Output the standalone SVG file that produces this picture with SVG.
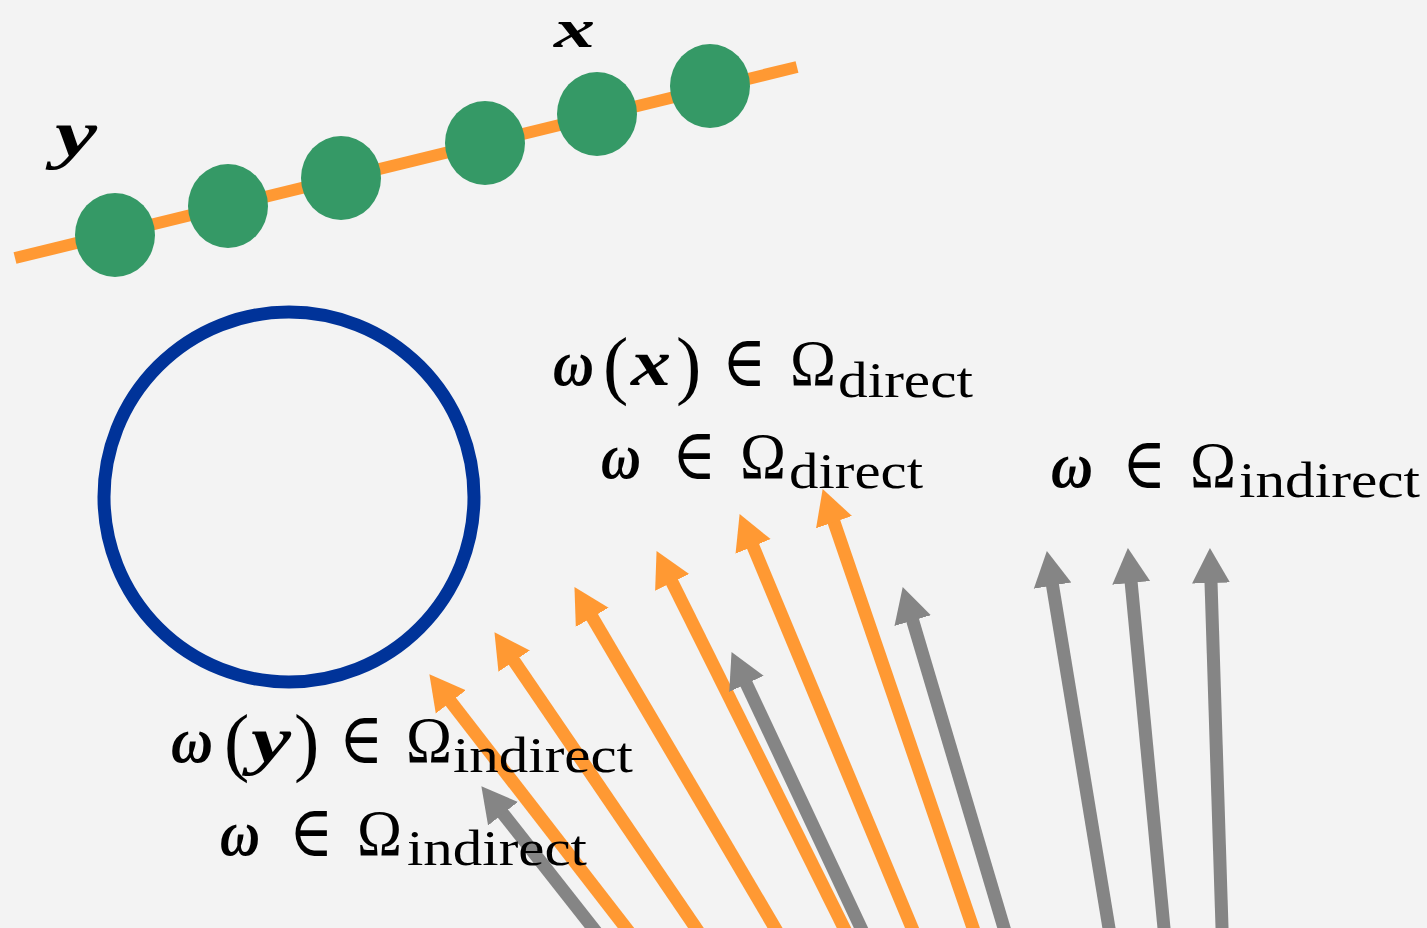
<svg xmlns="http://www.w3.org/2000/svg" width="1427" height="928" viewBox="0 0 1427 928">
<style>
.t{font-family:"Liberation Serif","DejaVu Serif",serif;font-size:66px;fill:#000}
.bi{font-weight:bold;font-style:italic}
.s{font-size:50px}
.p{font-size:76px}
.e{font-size:72px}
.or{stroke:#ff9933;stroke-width:13;fill:none;marker-end:url(#ha)}
.gr{stroke:#858585;stroke-width:13;fill:none;marker-end:url(#hg)}
.dot{fill:#359966}
</style>
<defs>
<marker id="ha" markerUnits="userSpaceOnUse" viewBox="0 -20 40 40" markerWidth="40" markerHeight="40" refX="1" refY="0" orient="auto"><path d="M0,-19 L35,0 L0,19 Z" fill="#ff9933"/></marker>
<marker id="hg" markerUnits="userSpaceOnUse" viewBox="0 -20 40 40" markerWidth="40" markerHeight="40" refX="1" refY="0" orient="auto"><path d="M0,-19 L35,0 L0,19 Z" fill="#858585"/></marker>
</defs>
<rect width="1427" height="928" fill="#f3f3f3"/>
<g id="chain">
<line x1="15" y1="258" x2="797" y2="67" stroke="#ff9933" stroke-width="12"/>
<ellipse class="dot" cx="115" cy="235" rx="40" ry="42"/>
<ellipse class="dot" cx="228" cy="206" rx="40" ry="42"/>
<ellipse class="dot" cx="341" cy="178" rx="40" ry="42"/>
<ellipse class="dot" cx="485" cy="143" rx="40" ry="42"/>
<ellipse class="dot" cx="597" cy="114" rx="40" ry="42"/>
<ellipse class="dot" cx="710" cy="86" rx="40" ry="42"/>
</g>
<g id="label-x"><text class="t bi" x="554" y="47" style="font-size:54px" textLength="41" lengthAdjust="spacingAndGlyphs">x</text></g>
<g id="label-y"><text class="t bi" x="55" y="156" textLength="42" lengthAdjust="spacingAndGlyphs">y</text></g>
<g id="sphere"><circle cx="289" cy="497" r="185" fill="none" stroke="#003399" stroke-width="13"/></g>
<g id="connectors">
<line class="gr" x1="602.3" y1="939.8" x2="502.4" y2="812.9"/>
<line class="or" x1="635.2" y1="939.9" x2="450.2" y2="701.1"/>
<line class="or" x1="704.4" y1="940.4" x2="513.6" y2="660.3"/>
<line class="or" x1="782.6" y1="940.9" x2="591.7" y2="616.4"/>
<line class="or" x1="850.7" y1="941.4" x2="671.7" y2="581.5"/>
<line class="gr" x1="867.4" y1="941.6" x2="746.0" y2="682.9"/>
<line class="or" x1="917.8" y1="941.8" x2="752.7" y2="545.5"/>
<line class="or" x1="977.9" y1="942.2" x2="833.7" y2="521.2"/>
<line class="gr" x1="1008.3" y1="942.4" x2="912.4" y2="619.6"/>
<line class="gr" x1="1111.4" y1="942.8" x2="1052.4" y2="584.6"/>
<line class="gr" x1="1165.4" y1="942.9" x2="1131.1" y2="581.9"/>
<line class="gr" x1="1222.5" y1="943" x2="1211.0" y2="582.0"/>
</g>
<g id="label-wx">
<text class="t bi" x="553" y="385" textLength="41" lengthAdjust="spacingAndGlyphs">ω</text>
<text class="t p" x="603" y="390">(</text>
<text class="t bi" x="631" y="385" textLength="40" lengthAdjust="spacingAndGlyphs">x</text>
<text class="t p" x="676" y="390">)</text>
<text class="t e" x="722" y="386" textLength="44" lengthAdjust="spacingAndGlyphs">∈</text>
<text class="t" x="790" y="385" textLength="46" lengthAdjust="spacingAndGlyphs">Ω</text>
<text class="t s" x="838" y="397" textLength="135" lengthAdjust="spacingAndGlyphs">direct</text>
</g>
<g id="label-w-direct">
<text class="t bi" x="601" y="478" textLength="40" lengthAdjust="spacingAndGlyphs">ω</text>
<text class="t e" x="672" y="479" textLength="44" lengthAdjust="spacingAndGlyphs">∈</text>
<text class="t" x="740" y="478" textLength="46" lengthAdjust="spacingAndGlyphs">Ω</text>
<text class="t s" x="789" y="488" textLength="134" lengthAdjust="spacingAndGlyphs">direct</text>
</g>
<g id="label-w-indirect-right">
<text class="t bi" x="1051" y="487" textLength="42" lengthAdjust="spacingAndGlyphs">ω</text>
<text class="t e" x="1122" y="488" textLength="44" lengthAdjust="spacingAndGlyphs">∈</text>
<text class="t" x="1190" y="487" textLength="46" lengthAdjust="spacingAndGlyphs">Ω</text>
<text class="t s" x="1239" y="497" textLength="181" lengthAdjust="spacingAndGlyphs">indirect</text>
</g>
<g id="label-wy">
<text class="t bi" x="171" y="762" textLength="42" lengthAdjust="spacingAndGlyphs">ω</text>
<text class="t p" x="224" y="767">(</text>
<text class="t bi" x="251" y="762" textLength="40" lengthAdjust="spacingAndGlyphs">y</text>
<text class="t p" x="294" y="767">)</text>
<text class="t e" x="339" y="763" textLength="44" lengthAdjust="spacingAndGlyphs">∈</text>
<text class="t" x="406" y="762" textLength="46" lengthAdjust="spacingAndGlyphs">Ω</text>
<text class="t s" x="453" y="772" textLength="180" lengthAdjust="spacingAndGlyphs">indirect</text>
</g>
<g id="label-w-indirect-left">
<text class="t bi" x="220" y="855" textLength="40" lengthAdjust="spacingAndGlyphs">ω</text>
<text class="t e" x="289" y="856" textLength="44" lengthAdjust="spacingAndGlyphs">∈</text>
<text class="t" x="357" y="855" textLength="45" lengthAdjust="spacingAndGlyphs">Ω</text>
<text class="t s" x="407" y="865" textLength="180" lengthAdjust="spacingAndGlyphs">indirect</text>
</g>
</svg>
